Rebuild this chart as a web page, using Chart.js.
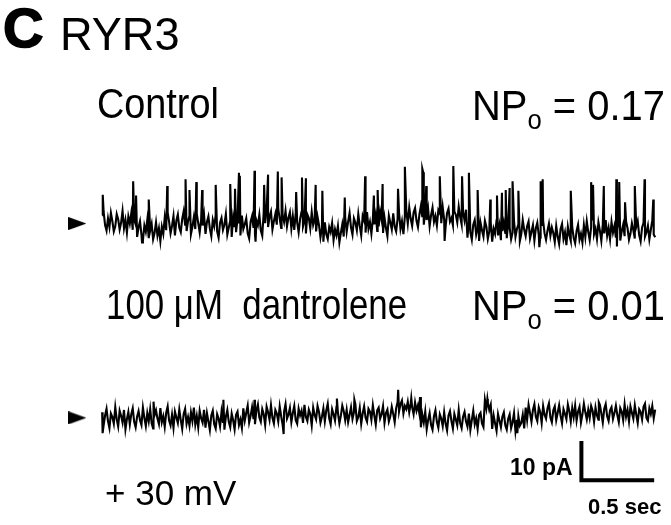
<!DOCTYPE html>
<html><head><meta charset="utf-8">
<script src="https://cdn.jsdelivr.net/npm/chart.js@4"></script>
<style>
html,body{margin:0;padding:0;background:#fff;}
#wrap{position:relative;width:671px;height:525px;overflow:hidden;background:#fff;}
#c{position:absolute;left:0;top:0;}
.t{position:absolute;white-space:pre;font-family:"Liberation Sans",Arial,Helvetica,sans-serif;color:#000;line-height:1;transform-origin:0 0;}
.sub{font-size:27px;position:relative;top:9px;}
</style></head><body>
<div id="wrap">
<canvas id="c" width="671" height="525"></canvas>
<div class="t" style="left:3px;top:0px;font-size:56px;font-weight:bold;-webkit-text-stroke:1.6px #000">C</div>
<div class="t" style="left:60px;top:10px;font-size:47px;transform:scaleX(0.96)">RYR3</div>
<div class="t" style="left:97px;top:83px;font-size:42px;transform:scaleX(0.9)">Control</div>
<div class="t" style="left:472px;top:85px;font-size:42px;transform:scaleX(0.95)">NP<span class="sub">o</span> = 0.17</div>
<div class="t" style="left:106px;top:284px;font-size:42px;transform:scaleX(0.83)">100 μM  dantrolene</div>
<div class="t" style="left:472px;top:285px;font-size:42px;transform:scaleX(0.95)">NP<span class="sub">o</span> = 0.01</div>
<div class="t" style="left:105px;top:475px;font-size:35px">+ 30 mV</div>
<div class="t" style="left:510px;top:456px;font-size:23px;font-weight:bold">10 pA</div>
<div class="t" style="left:588px;top:496px;font-size:22px;font-weight:bold">0.5 sec</div>
</div>
<script>
const SAMPLE_DT = 0.01;

// Control trace: baseline current (pA, relative to closed level), one value per sample
const controlNoise = [
 2.1,3.0,-0.4,-1.8,1.3,-0.9,2.7,0.6,-2.0,-0.7,2.4,1.1,-1.5,0.2,3.2,-1.2,0.9,-2.3,1.8,0.0,2.6,-1.6,1.0,
 -0.2,-3.4,-1.0,0.6,-2.8,-4.3,-0.5,-2.1,0.9,-3.7,-1.8,-0.1,-4.0,-2.4,0.3,-3.1,-1.2,-4.5,-0.8,-2.6,
 1.5,-1.7,2.8,0.4,-2.5,-0.6,1.9,-3.0,0.8,2.3,-1.1,-2.2,1.2,3.1,-0.3,-1.9,0.6,2.0,-2.7,-0.8,1.6,-1.4,2.5,0.1,-2.3,1.0,-0.5,2.2,
 -2.6,0.4,1.8,-1.3,-3.2,0.9,-0.7,2.1,-2.0,-3.6,0.2,1.4,-1.6,-0.3,2.4,-2.8,-1.0,0.7,-3.4,1.6,
 -0.9,-2.2,1.1,0.0,-3.0,2.0,-1.4,-0.2,1.3,-2.5,-3.8,0.5,1.9,-1.1,-2.7,0.8,-0.4,2.2,-1.8,-3.1,
 2.8,0.1,3.4,-0.9,1.7,3.0,-1.5,0.6,2.4,-0.3,3.7,1.2,-1.1,2.1,0.4,3.2,-0.7,1.5,2.9,-1.3,
 1.9,-1.6,2.7,0.3,-2.2,1.1,3.0,-0.8,0.6,-2.5,2.3,1.4,-1.2,2.9,-0.4,0.9,-2.0,1.7,
 -0.4,-3.5,-1.2,-4.6,0.3,-2.7,-3.9,-0.9,-2.2,0.1,-4.2,-1.5,-3.0,-0.6,-4.8,-2.4,-0.2,-3.3,
 1.6,-2.1,0.5,2.7,-1.0,-2.8,1.3,0.2,-1.7,2.4,-0.6,-3.0,1.9,0.7,-2.3,2.9,-1.3,0.4,-2.6,1.1,
 -0.2,2.2,-1.9,-0.7,3.0,0.9,-2.4,1.5,-1.1,-3.2,2.0,0.3,-1.5,2.6,-0.8,-2.0,1.2,2.8,-1.4,0.6,
 -2.7,1.8,
 3.2,0.0,4.1,1.2,-0.6,2.8,3.9,0.7,-0.9,2.3,4.4,1.6,-0.3,3.0,0.9,3.6,-0.7,2.1,4.0,0.4,
 1.9,-0.5,3.4,2.6,0.1,4.2,1.0,-0.8,2.7,3.8,0.5,1.4,-0.4,3.1,2.2,0.3,4.3,1.7,-0.2,2.9,
 0.8,3.5,
 -3.6,0.5,-2.2,-4.1,-0.3,0.9,-2.8,-1.1,-4.4,0.2,-1.7,-3.3,0.7,-0.8,-3.9,-2.0,0.4,-4.6,-1.3,-2.6,
 0.8,-3.0,-0.5,-4.2,-1.9,0.3,-2.4,-3.7,0.1,-1.0,-4.0,-2.3,0.6,-3.4,-1.4,-0.2,-4.5,-2.7,0.9,-1.6,
 -3.2,-0.7,0.5,-3.8,-2.1,-0.4,-4.3,-1.2,0.2,-2.9,-3.5,-0.6,0.7,-2.5,-4.1,-1.8,0.0,-3.1,-1.0,-2.4,
 -4.7,-0.6,-3.3,-5.2,-1.4,-0.1,-3.9,-2.2,-5.5,-0.8,-2.9,-4.4,-1.0,-3.6,-5.0,-1.9,-0.3,-4.1,-2.6,-4.8,
 -0.4,-3.4,0.6,-2.1,-4.2,-0.9,0.8,-2.7,-1.3,-3.9,0.3,-1.8,-4.4,-0.2,-2.5,0.9,-3.1,-1.1,-4.0,0.4,
 -2.3,-0.6,-3.6,-1.5,0.7,-4.3,-2.0,-0.3,-3.2,0.5,-1.2,-4.1,-2.6,0.1,-1.7,-3.8,-0.8,0.6,-2.9,-4.5,
 -1.0,0.2,-3.3,-2.2,-0.5,-4.0,-1.6,0.8,-2.8,-3.5
];
// Control trace: channel openings [time s, current pA]
const controlEvents = [
 [0.004,7.3],[0.213,10.7],[0.233,7.1],[0.32,6.1],[0.447,9.5],[0.573,11.2],[0.6,8.5],
 [0.647,10.5],[0.687,8.5],[0.78,9.8],[0.88,10.0],[0.913,8.8],[0.94,12.9],[0.946,12.1],
 [1.047,13.4],[1.113,9.8],[1.14,12.4],[1.207,13.2],[1.233,11.7],[1.333,8.0],[1.373,11.7],
 [1.4,11.5],[1.467,9.8],[1.513,8.3],[1.667,6.6],[1.807,12.0],[1.867,7.1],[1.893,8.5],
 [1.927,10.0],[2.033,8.8],[2.08,14.4],[2.2,13.9],[2.206,13.0],[2.227,9.5],[2.32,12.0],
 [2.413,14.6],[2.473,12.0],[2.52,12.9],[2.58,8.5],[2.667,6.1],[2.713,7.1],[2.747,7.8],
 [2.773,8.5],[2.8,9.0],[2.82,10.7],[2.86,8.3],[3.013,10.7],[3.027,11.2],[3.22,8.3],
 [3.36,10.5],[3.373,9.8],[3.447,9.5],[3.533,11.2],[3.553,10.5],[3.593,5.4],[3.66,9.5],
 [3.727,11.2],[3.787,6.1],
 [0.274,-4.8],[1.054,-4.6],[2.353,-4.4],[3.004,-6.0],[3.537,-5.8]
];

// Dantrolene trace: baseline current (pA)
const dantroleneNoise = [
 1.4,-1.9,0.6,2.3,-0.8,-2.6,1.1,0.2,-1.5,2.7,-0.4,-2.2,1.8,0.5,-1.2,2.0,-2.9,-0.3,1.5,-1.7,
 0.9,2.4,-1.0,-2.4,0.3,1.7,-0.6,-1.8,2.6,0.0,-2.1,1.2,-0.9,2.2,-1.4,-2.7,0.7,1.9,-0.2,-1.6,
 2.5,-1.1,0.4,-2.3,1.3,2.9,-0.7,-1.9,0.8,-2.5,1.6,0.1,-1.3,2.1,-0.5,-2.8,1.0,2.3,-1.5,0.2,
 -2.0,1.4,-0.8,2.6,-1.7,0.5,-2.4,1.8,-0.1,-1.2,2.0,
 -2.5,1.2,-0.9,-3.1,0.6,1.8,-1.6,-2.7,0.9,-0.2,-2.2,1.5,-1.3,-3.0,0.3,2.0,-1.0,-2.4,1.1,-0.6,
 -2.9,0.8,1.6,-1.8,-0.4,-2.6,
 2.4,-0.7,1.3,3.1,-1.2,0.5,2.7,-0.3,-1.6,1.9,3.4,0.1,-1.0,2.2,0.9,-1.8,2.8,1.4,-0.5,3.2,
 0.0,-1.4,2.0,1.1,-0.9,2.9,0.4,-1.7,1.6,3.5,-0.2,0.8,2.5,-1.1,1.2,3.0,-0.6,-1.5,2.3,0.6,
 1.8,-1.3,3.3,0.2,-0.8,2.1,1.0,-1.9,2.6,0.7,-0.4,3.0,1.5,-1.2,0.3,2.4,-0.9,1.9,3.6,-0.1,
 -1.6,2.2,0.9,-0.7,2.8,1.3,-1.4,0.5,3.1,1.7,-0.6,2.0,-1.1,0.8,2.7,-0.3,1.4,3.4,-0.8,0.2,
 2.5,-1.5,1.1,2.9,0.0,-1.0,2.3,1.6,-0.5,3.2,0.6,-1.7,1.9,2.6,-0.2,0.9,3.0,-1.3,1.2,2.1,
 -0.9,0.4,2.8,1.0,-1.1,2.4,
 4.0,1.6,3.5,4.4,1.1,3.0,2.2,4.1,1.4,3.6,2.7,0.9,3.9,1.8,3.2,1.0,
 -2.4,0.8,-1.2,1.6,-2.9,-0.5,1.2,-1.8,-3.0,0.4,1.9,-1.0,-2.5,0.9,-0.2,-2.1,1.4,-1.5,-3.2,0.6,
 1.7,-0.8,-2.7,1.0,-0.4,-1.9,2.0,-1.3,-2.6,0.3,1.5,-0.9,-2.2,1.1,-3.1,-0.6,1.8,-1.6,-0.1,-2.8,
 0.7,1.3,-1.4,-2.3,
 4.6,2.4,3.9,2.0,3.3,
 -2.8,0.6,-1.4,-3.3,1.0,-0.7,-2.4,0.3,1.4,-1.9,-3.0,-0.2,0.9,-2.6,-1.1,1.2,-3.4,-0.5,0.4,-2.0,
 -1.3,0.8,-2.7,
 2.6,-0.5,3.3,1.2,-1.0,2.0,3.5,0.3,-0.8,2.7,1.5,-1.3,3.0,0.8,-0.2,2.4,3.7,0.1,-1.1,1.9,
 2.9,-0.6,1.3,3.2,0.5,-1.4,2.2,1.0,-0.3,3.4,1.7,-0.9,2.5,0.2,3.1,-0.7,1.6,2.8,-1.2,0.9,
 3.6,1.4,-0.4,2.1,0.0,3.0,1.8,-1.0,2.6,0.6,-0.5,3.3,1.1,-1.2,2.3,3.5,0.4,-0.8,1.9,2.7,
 -0.3,1.2,3.1,0.7,-1.1,2.5,1.6,-0.6,3.4,0.3,2.0,-0.9,2.9,1.3,-0.2,3.2,0.8,-1.3,2.2,1.5,
 -0.4,2.8,3.6,0.0,-0.7,2.4,1.0,3.0,-0.1,2.1
];
// Dantrolene trace: brief events [time s, current pA]
const dantroleneEvents = [
 [2.034,7.1],[2.124,5.0],[2.184,5.3],[2.647,4.8],
 [0.353,4.1],[0.833,4.6],[1.047,4.6],[1.613,4.9],[1.733,4.6],[3.413,3.9],
 [0.003,-3.9],[1.247,-4.1],[2.853,-3.9]
];

// scale bar
const SCALE_TIME = [0.5];   // s
const SCALE_CURRENT = [10]; // pA

function buildTrace(noise, events){
  const pts = noise.map((v,i)=>({x:i*SAMPLE_DT, y:v}));
  events.forEach(e=>pts.push({x:e[0], y:e[1]}));
  pts.sort((a,b)=>a.x-b.x);
  return pts;
}

// layout constants (axis ranges chosen to place the traces on the page)
const PX_PER_S = 150, PX_PER_PA = 4.1, W = 671, H = 525;
const X0 = 95;            // pixel of t = 0
const BASE_C = 222, BASE_D = 424; // pixel rows of closed levels
const xMin = -X0/PX_PER_S, xMax = (W-X0)/PX_PER_S;
const yCmax = BASE_C/PX_PER_PA, yCmin = -(H-BASE_C)/PX_PER_PA;
const yDmax = BASE_D/PX_PER_PA, yDmin = -(H-BASE_D)/PX_PER_PA;
const ARROW_T = -0.17;
const BAR_T = 3.293, BAR_Y = -15.85;

// closed-level marker symbol (right-pointing arrowhead)
const arrowImg = document.createElement('canvas');
arrowImg.width = 18; arrowImg.height = 13;
(function(){ const g = arrowImg.getContext('2d'); g.fillStyle = '#000'; g.beginPath(); g.moveTo(0,0); g.lineTo(18,6.5); g.lineTo(0,13); g.closePath(); g.fill(); })();

const traceStyle = {showLine:true, pointRadius:0, borderColor:'#000', borderWidth:2.1, tension:0, fill:false};
const markerStyle = {pointStyle:arrowImg, pointRadius:9, showLine:false};

new Chart(document.getElementById('c'), {
  type:'scatter',
  data:{datasets:[
    Object.assign({label:'Control', data:buildTrace(controlNoise, controlEvents), yAxisID:'yC'}, traceStyle),
    Object.assign({label:'100 µM dantrolene', data:buildTrace(dantroleneNoise, dantroleneEvents), yAxisID:'yD'}, traceStyle),
    Object.assign({label:'closed C', data:[{x:ARROW_T,y:0}], yAxisID:'yC'}, markerStyle),
    Object.assign({label:'closed D', data:[{x:ARROW_T,y:0}], yAxisID:'yD'}, markerStyle),
    {label:'scale', data:[{x:BAR_T,y:BAR_Y+SCALE_CURRENT[0]},{x:BAR_T,y:BAR_Y},{x:BAR_T+SCALE_TIME[0],y:BAR_Y}], yAxisID:'yD', showLine:true, pointRadius:0, borderColor:'#000', borderWidth:4, borderCapStyle:'butt', borderJoinStyle:'miter'}
  ]},
  options:{
    responsive:false, animation:false, devicePixelRatio:1,
    layout:{padding:0},
    plugins:{legend:{display:false}, tooltip:{enabled:false}, title:{display:false}},
    scales:{
      x:{type:'linear', min:xMin, max:xMax, display:false},
      yC:{type:'linear', min:yCmin, max:yCmax, display:false},
      yD:{type:'linear', min:yDmin, max:yDmax, display:false}
    }
  }
});
</script>
</body></html>
